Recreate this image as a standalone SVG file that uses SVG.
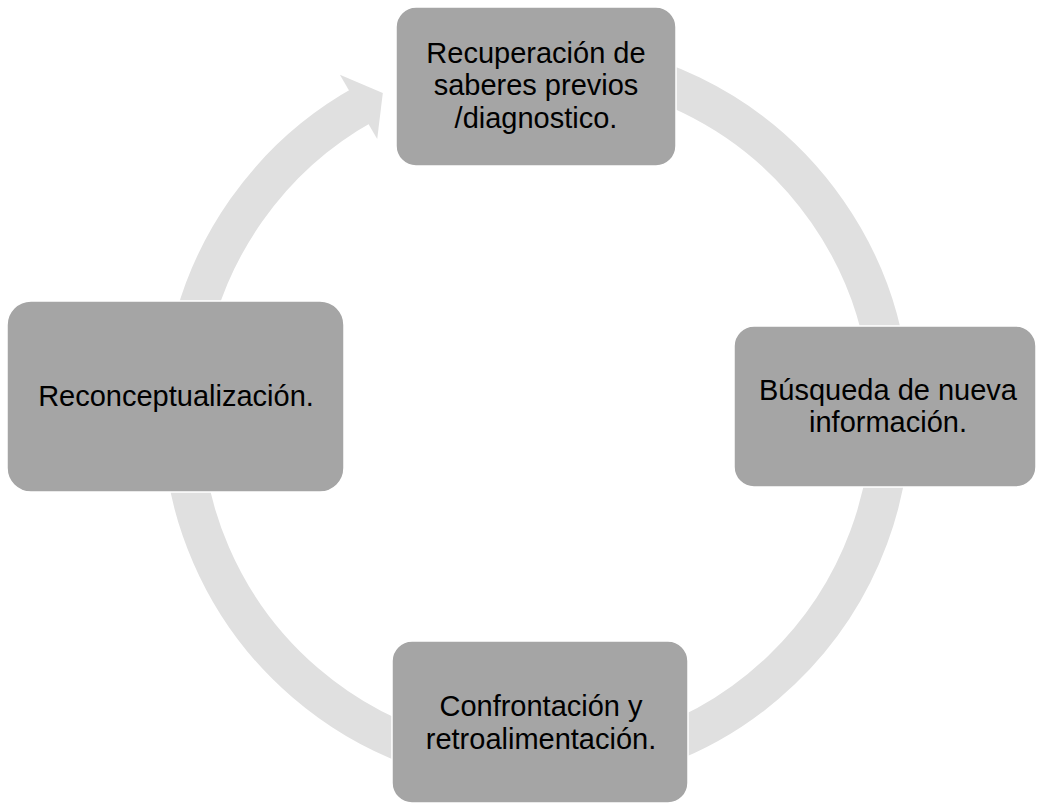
<svg xmlns="http://www.w3.org/2000/svg" width="1037" height="804" viewBox="0 0 1037 804">
<style>
.node rect{fill:#a5a5a5;stroke:#ffffff;stroke-width:1.5}
.node text{font-family:"Liberation Sans",Arial,sans-serif;font-size:29px;fill:#000;text-anchor:middle}
.ring{fill:none;stroke:#e0e0e0;stroke-width:39}
.head{fill:#e0e0e0}
</style>
<rect width="1037" height="804" fill="#ffffff"/>
<g id="connectors">
<path class="ring" d="M 536.5 59.5 A 354.5 354.5 0 1 1 364.6 103.9"/>
<polygon class="head" points="339.9,74.8 382.8,93.1 377.2,139.1"/>
</g>
<g id="node-top" class="node">
<rect x="396" y="7" width="280" height="159" rx="20" ry="20"/>
<text x="536" y="62.5"><tspan x="536" y="62.5">Recuperación de</tspan><tspan x="536" y="95">saberes previos</tspan><tspan x="536" y="127.5">/diagnostico.</tspan></text>
</g>
<g id="node-right" class="node">
<rect x="734" y="326" width="302" height="161" rx="20" ry="20"/>
<text x="888" y="399.8"><tspan x="888" y="399.8">Búsqueda de nueva</tspan><tspan x="888" y="432.3">información.</tspan></text>
</g>
<g id="node-bottom" class="node">
<rect x="392" y="641" width="296" height="162" rx="20" ry="20"/>
<text x="541" y="716"><tspan x="541" y="716">Confrontación y</tspan><tspan x="541" y="748.5">retroalimentación.</tspan></text>
</g>
<g id="node-left" class="node">
<rect x="7" y="301" width="337" height="191" rx="24" ry="24"/>
<text x="176" y="405.5">Reconceptualización.</text>
</g>
</svg>
